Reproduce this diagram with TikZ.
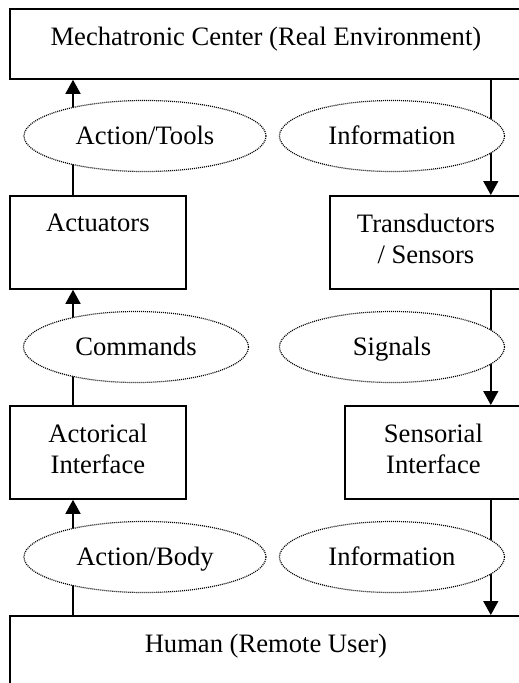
\documentclass[tikz,border=0pt]{standalone}
\usepackage{fontspec}
\setmainfont{Liberation Serif}
\usetikzlibrary{arrows.meta,shapes.geometric}
\tikzset{
  ar/.style={-{Triangle[length=14pt,width=15pt]},line width=1.5pt},
  box/.style={draw,line width=1.8pt,anchor=north west,inner sep=0pt},
  lbl/.style={anchor=north,align=center,inner sep=0pt,yshift=-19pt,font=\fontsize{26.6}{31}\selectfont},
  flow/.style={ellipse,draw,fill=white,line width=1.2pt,dash pattern=on 1pt off 1pt,
    minimum height=71pt,inner sep=0pt,text height=17pt,text depth=0pt,font=\fontsize{26.6}{31}\selectfont}
}

\begin{document}
\begin{tikzpicture}[x=1pt,y=-1pt]
\useasboundingbox (0,0) rectangle (519,683);
% boxes
\node[box,minimum width=512pt,minimum height=70pt,label={[lbl]north:Mechatronic Center (Real Environment)}] (mech) at (9,8) {};
\node[box,minimum width=176pt,minimum height=93pt,label={[lbl]north:Actuators}] (act) at (9,195) {};
\node[box,minimum width=192pt,minimum height=93pt,label={[lbl]north:{Transductors\\/ Sensors}}] (trans) at (329,195) {};
\node[box,minimum width=176pt,minimum height=93pt,label={[lbl]north:{Actorical\\Interface}}] (actor) at (9,405) {};
\node[box,minimum width=177pt,minimum height=93pt,label={[lbl]north:{Sensorial\\Interface}}] (sens) at (344,405) {};
\node[box,minimum width=512pt,minimum height=90pt,label={[lbl]north:Human (Remote User)}] (human) at (9,615) {};
% up: action side
\draw[ar] ([xshift=64pt]human.north west) -- ([xshift=64pt]actor.south west);
\draw[ar] ([xshift=64pt]actor.north west) -- ([xshift=64pt]act.south west);
\draw[ar] ([xshift=64pt]act.north west) -- ([xshift=64pt]mech.south west);
% down: information side
\draw[ar] ([xshift=-32pt]mech.south east) -- ([xshift=-32pt]trans.north east);
\draw[ar] ([xshift=-32pt]trans.south east) -- ([xshift=-32pt]sens.north east);
\draw[ar] ([xshift=-32pt]sens.south east) -- ([xshift=-32pt]human.north east);
% flows
\node[flow,minimum width=242pt] (tools) at (145,136) {Action/Tools};
\node[flow,minimum width=225pt] (info1) at (392,136) {Information};
\node[flow,minimum width=225pt] (cmd) at (136,347) {Commands};
\node[flow,minimum width=225pt] (sig) at (392,347) {Signals};
\node[flow,minimum width=242pt] (body) at (145,557) {Action/Body};
\node[flow,minimum width=225pt] (info2) at (392,557) {Information};
\end{tikzpicture}
\end{document}
